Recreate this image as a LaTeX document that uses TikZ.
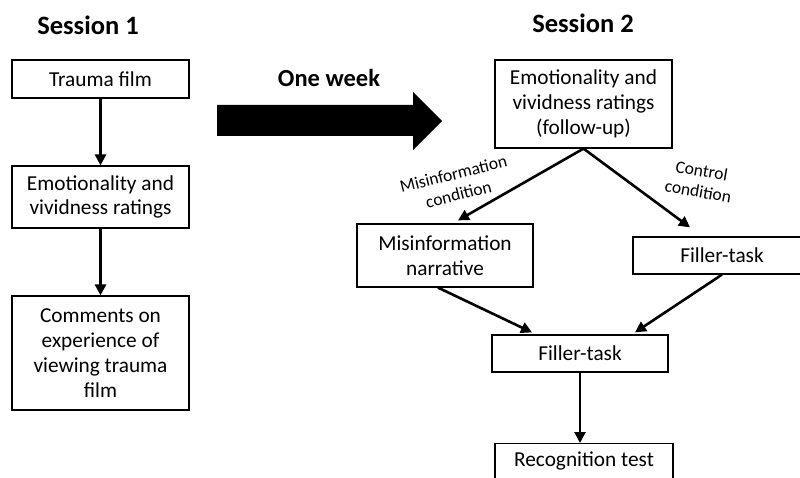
\documentclass[tikz,border=0pt]{standalone}
\usepackage{fontspec}
\setmainfont{Carlito}
\usetikzlibrary{arrows.meta}
\begin{document}
\begin{tikzpicture}[x=1pt,y=-1pt,
  box/.style={draw=black,line width=1.2pt,align=center,inner sep=0pt,
    font=\fontsize{21.3}{24.8}\selectfont},
  title/.style={font=\fontsize{26.5}{30}\selectfont\bfseries},
  conn/.style={line width=2.6pt,-{Triangle[length=11pt,width=11pt]}},
  lbl/.style={font=\fontsize{17.5}{21}\selectfont,align=center}]
\useasboundingbox (0,0) rectangle (800,478);
\clip (0,0) rectangle (800,478);
% Session 1
\node[title] (s1) at (88,25) {Session 1};
\node[box,minimum width=177pt,minimum height=38pt] (t1) at (100.5,79) {Trauma film};
\node[box,minimum width=177pt,minimum height=62pt] (e1) at (100.5,197) {Emotionality and\\vividness ratings};
\node[box,minimum width=177pt,minimum height=114pt] (c1) at (100.5,353) {Comments on\\experience of\\viewing trauma\\film};
\draw[conn] (t1.south) -- (e1.north);
\draw[conn] (e1.south) -- (c1.north);
% One week
\node[font=\fontsize{24.5}{28}\selectfont\bfseries] (ow) at (329,78) {One week};
\fill[black] (217,105) -- (413,105) -- (413,92) -- (442,121) -- (413,150) -- (413,136) -- (217,136) -- cycle;
% Session 2
\node[title] (s2) at (583,23) {Session 2};
\node[box,minimum width=177pt,minimum height=88pt] (e2) at (583.5,104) {Emotionality and\\vividness ratings\\(follow-up)};
\node[box,minimum width=176pt,minimum height=63pt] (mn) at (445,255.5) {Misinformation\\narrative};
\node[box,minimum width=178pt,minimum height=37pt] (f1) at (722,255.5) {Filler-task};
\node[box,minimum width=176pt,minimum height=37pt] (f2) at (580,353.5) {Filler-task};
\node[box,minimum width=178pt,minimum height=60pt,anchor=north] (rt) at (584,443) {};
\node[font=\fontsize{21.3}{24.8}\selectfont] (rtt) at (584,461) {Recognition test};
\coordinate (mtip) at ([xshift=13pt,yshift=3pt]mn.north);
\coordinate (ctip) at ([xshift=-32pt,yshift=9pt]f1.north);
\draw[conn] (e2.south) -- (mtip);
\draw[conn] (e2.south) -- (ctip);
\coordinate (m2) at ([xshift=-7pt]mn.south);
\coordinate (l2) at ([xshift=-48pt,yshift=2pt]f2.north);
\coordinate (r2) at ([xshift=55pt,yshift=2pt]f2.north);
\draw[conn] (m2) -- (l2);
\draw[conn] (f1.south) -- (r2);
\draw[conn] (f2.south) -- (f2.south |- rt.north);
% condition labels
\node[lbl,rotate=14] (ml) at (456,184) {Misinformation\\condition};
\node[lbl,rotate=-10] (cl) at (700,181) {Control\\condition};
\end{tikzpicture}
\end{document}
